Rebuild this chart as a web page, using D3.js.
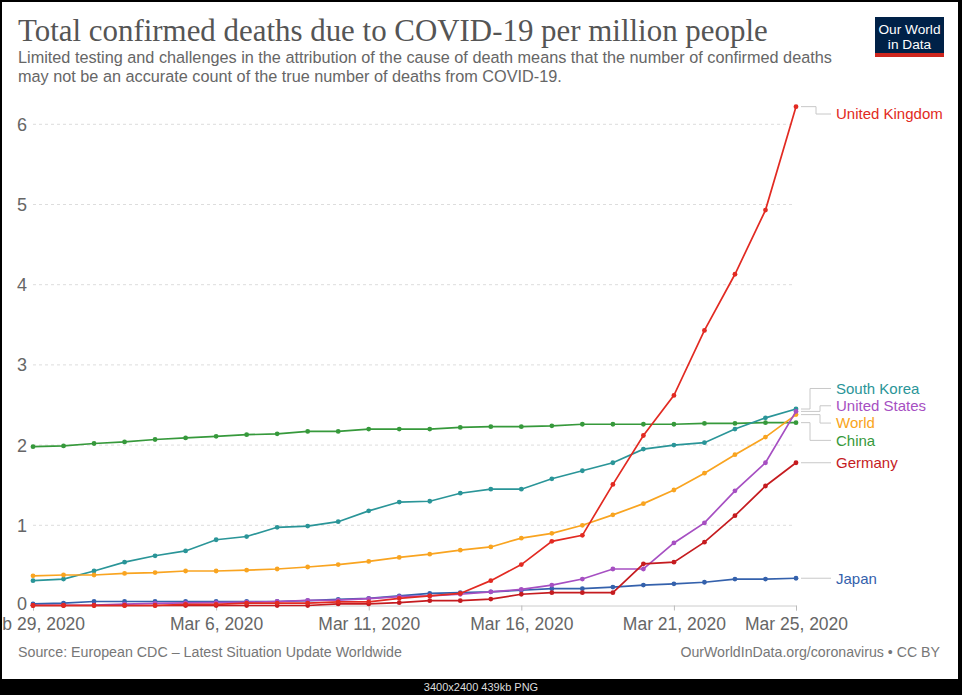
<!DOCTYPE html>
<html><head><meta charset="utf-8">
<script src="https://cdn.jsdelivr.net/npm/d3@7"></script>
<style>body{margin:0;background:#fff}svg{display:block}</style>
</head><body><svg id="c" width="962" height="695"></svg>
<script>
// ---------- DATA ----------
const dates = ["2020-02-29","2020-03-01","2020-03-02","2020-03-03","2020-03-04","2020-03-05","2020-03-06",
  "2020-03-07","2020-03-08","2020-03-09","2020-03-10","2020-03-11","2020-03-12","2020-03-13","2020-03-14",
  "2020-03-15","2020-03-16","2020-03-17","2020-03-18","2020-03-19","2020-03-20","2020-03-21","2020-03-22",
  "2020-03-23","2020-03-24","2020-03-25"];
const seriesNames = ["China","South Korea","World","Japan","United States","Germany","United Kingdom"];
const chinaValues = [1.98,1.99,2.02,2.04,2.07,2.09,2.11,2.13,2.14,2.17,2.17,2.20,2.20,2.20,2.22,2.23,2.23,2.24,2.26,2.26,2.26,2.26,2.27,2.27,2.28,2.28];
const koreaValues = [0.31,0.33,0.43,0.54,0.62,0.68,0.82,0.86,0.975,0.99,1.045,1.18,1.29,1.30,1.40,1.45,1.45,1.58,1.68,1.78,1.95,2.00,2.03,2.20,2.34,2.45];
const worldValues = [0.37,0.38,0.38,0.40,0.41,0.43,0.43,0.44,0.455,0.48,0.51,0.55,0.60,0.64,0.69,0.73,0.84,0.90,1.00,1.13,1.27,1.44,1.65,1.88,2.10,2.38];
const japanValues = [0.02,0.03,0.05,0.05,0.05,0.05,0.05,0.05,0.05,0.06,0.077,0.09,0.12,0.15,0.16,0.17,0.19,0.21,0.21,0.23,0.255,0.27,0.29,0.33,0.33,0.34];
const usValues = [0.003,0.003,0.006,0.018,0.027,0.033,0.036,0.042,0.05,0.063,0.066,0.085,0.11,0.12,0.14,0.17,0.20,0.255,0.33,0.455,0.455,0.78,1.03,1.43,1.78,2.42];
const germanyValues = [0,0,0,0,0,0,0,0,0,0,0.02,0.02,0.035,0.06,0.06,0.08,0.14,0.16,0.16,0.16,0.52,0.54,0.79,1.12,1.49,1.78];
const ukValues = [0,0,0,0,0,0.015,0.015,0.03,0.03,0.03,0.045,0.045,0.09,0.12,0.15,0.31,0.51,0.80,0.875,1.51,2.12,2.62,3.43,4.13,4.93,6.22];
const yTicks = [0,1,2,3,4,5,6];
const xTickDates = ["2020-02-29","2020-03-06","2020-03-11","2020-03-16","2020-03-21","2020-03-25"];

const titleText = "Total confirmed deaths due to COVID-19 per million people";
const subtitleLines = ["Limited testing and challenges in the attribution of the cause of death means that the number of confirmed deaths",
  "may not be an accurate count of the true number of deaths from COVID-19."];
const sourceText = "Source: European CDC \u2013 Latest Situation Update Worldwide";
const creditText = "OurWorldInData.org/coronavirus \u2022 CC BY";

// ---------- STYLE ----------
const colors = {"China":"#36993b","South Korea":"#2a9598","World":"#f9a420","Japan":"#3461ac",
  "United States":"#a64fc2","Germany":"#c51b1f","United Kingdom":"#e22a22"};
const valuesByName = {"China":chinaValues,"South Korea":koreaValues,"World":worldValues,"Japan":japanValues,
  "United States":usValues,"Germany":germanyValues,"United Kingdom":ukValues};

const parse = d3.timeParse("%Y-%m-%d");
const series = seriesNames.map(n => ({name:n, color:colors[n],
  points: dates.map((d,i)=>({date:parse(d), v:valuesByName[n][i]}))}));

const svg = d3.select("#c");
const SANS = "'Liberation Sans', Arial, sans-serif";
function fit(sel, target){ const l = sel.node().getComputedTextLength(); sel.attr("font-size", parseFloat(sel.attr("font-size"))*target/l); return sel; }

// title
fit(svg.append("text").attr("x",18).attr("y",41).attr("font-family","'Liberation Serif', serif")
  .attr("font-size",30).attr("fill","#555").text(titleText), 750);
const sub0 = svg.append("text").attr("x",18).attr("y",63).attr("font-family",SANS).attr("font-size",15)
  .attr("fill","#666").text(subtitleLines[0]);
fit(sub0, 814);
svg.append("text").attr("x",18).attr("y",81.5).attr("font-family",SANS).attr("font-size",sub0.attr("font-size"))
  .attr("fill","#666").text(subtitleLines[1]);

// logo
const logo = svg.append("g");
logo.append("rect").attr("x",875).attr("y",17).attr("width",69).attr("height",40).attr("fill","#002147");
logo.append("rect").attr("x",875).attr("y",53).attr("width",69).attr("height",4).attr("fill","#ce261e");
const l1 = fit(logo.append("text").attr("x",909.5).attr("y",33.5).attr("text-anchor","middle").attr("font-family",SANS)
  .attr("font-size",13.5).attr("fill","#fff").text("Our World"), 62);
logo.append("text").attr("x",909.5).attr("y",48.5).attr("text-anchor","middle").attr("font-family",SANS)
  .attr("font-size",l1.attr("font-size")).attr("fill","#fff").text("in Data");

// scales
const x = d3.scaleTime().domain([parse(dates[0]), parse(dates[dates.length-1])]).range([33, 796]);
const y = d3.scaleLinear().domain([0,6]).range([605.5, 124.3]);

// gridlines + y labels
const yg = svg.append("g");
yTicks.forEach(t=>{
  if(t>0) yg.append("line").attr("x1",33).attr("x2",795).attr("y1",y(t)).attr("y2",y(t))
    .attr("stroke","#ddd").attr("stroke-dasharray","3,3");
  yg.append("text").attr("x",27).attr("y",y(t) - (t===0?2:0)).attr("dy","0.36em").attr("text-anchor","end")
    .attr("font-family",SANS).attr("font-size",18).attr("fill","#666").text(t);
});

// x axis
const xAxis = d3.axisBottom(x).tickValues(xTickDates.map(parse)).tickFormat(d3.timeFormat("%b %-d, %Y"))
  .tickSize(5).tickPadding(7);
const xg = svg.append("g").attr("transform","translate(0,605.5)").call(xAxis);
xg.select(".domain").attr("stroke","#ccc");
xg.selectAll(".tick line").attr("stroke","#bbb");
xg.selectAll(".tick text").attr("font-family",SANS).attr("font-size",17.5).attr("fill","#666");

// lines
const line = d3.line().x(d=>x(d.date)).y(d=>y(d.v));
const sg = svg.append("g");
series.forEach(s=>{
  const g = sg.append("g");
  g.append("path").attr("d",line(s.points)).attr("fill","none").attr("stroke",s.color).attr("stroke-width",1.7);
  g.selectAll("circle").data(s.points).join("circle").attr("cx",d=>x(d.date)).attr("cy",d=>y(d.v))
    .attr("r",2.4).attr("fill",s.color);
});

// labels with collision resolution
const gap = 17.3, minY = 114;
let items = series.map(s=>({s, ey:y(s.points[s.points.length-1].v)})).sort((a,b)=>a.ey-b.ey);
let groups = items.map(it=>({members:[it], center:it.ey}));
function gTop(g){ return g.center - (g.members.length-1)*gap/2; }
function gBot(g){ return g.center + (g.members.length-1)*gap/2; }
let changed = true;
while(changed){
  changed = false;
  groups.forEach(g=>{ if(gTop(g) < minY) g.center += minY - gTop(g); });
  for(let i=0;i<groups.length-1;i++){
    if(gBot(groups[i]) + gap > gTop(groups[i+1])){
      const m = groups[i].members.concat(groups[i+1].members);
      groups.splice(i, 2, {members:m, center:d3.mean(m, d=>d.ey)});
      changed = true; break;
    }
  }
}
const lg = svg.append("g");
groups.forEach(g=>{
  g.members.forEach((it,i)=>{
    it.ly = gTop(g) + i*gap;
    const n = g.members.length;
    const elbow = (n>1) ? ((i===0||i===n-1) ? 810 : 820) : 816;
    const x0 = x(it.s.points[it.s.points.length-1].date) + 5;
    const path = Math.abs(it.ly-it.ey) < 0.8 ? `M${x0},${it.ey}H831`
      : `M${x0},${it.ey}H${elbow}V${it.ly}H831`;
    lg.append("path").attr("d",path).attr("fill","none").attr("stroke","#c8c8c8").attr("stroke-width",1);
    lg.append("text").attr("x",836).attr("y",it.ly).attr("dy","0.36em").attr("font-family",SANS)
      .attr("font-size",15).attr("fill",it.s.color).text(it.s.name);
  });
});

// footer
fit(svg.append("text").attr("x",18).attr("y",657).attr("font-family",SANS).attr("font-size",13.5)
  .attr("fill","#777").text(sourceText), 384);
fit(svg.append("text").attr("x",940).attr("y",657).attr("text-anchor","end").attr("font-family",SANS)
  .attr("font-size",13.5).attr("fill","#777").text(creditText), 260);

// frame
svg.append("rect").attr("x",0).attr("y",0).attr("width",962).attr("height",2).attr("fill","#000");
svg.append("rect").attr("x",0).attr("y",0).attr("width",2).attr("height",695).attr("fill","#000");
svg.append("rect").attr("x",958).attr("y",0).attr("width",4).attr("height",695).attr("fill","#000");
svg.append("rect").attr("x",0).attr("y",679).attr("width",962).attr("height",16).attr("fill","#000");
svg.append("text").attr("x",481).attr("y",691).attr("text-anchor","middle").attr("font-family",SANS)
  .attr("font-size",11).attr("fill","#ddd").text("3400x2400 439kb PNG");
</script></body></html>
